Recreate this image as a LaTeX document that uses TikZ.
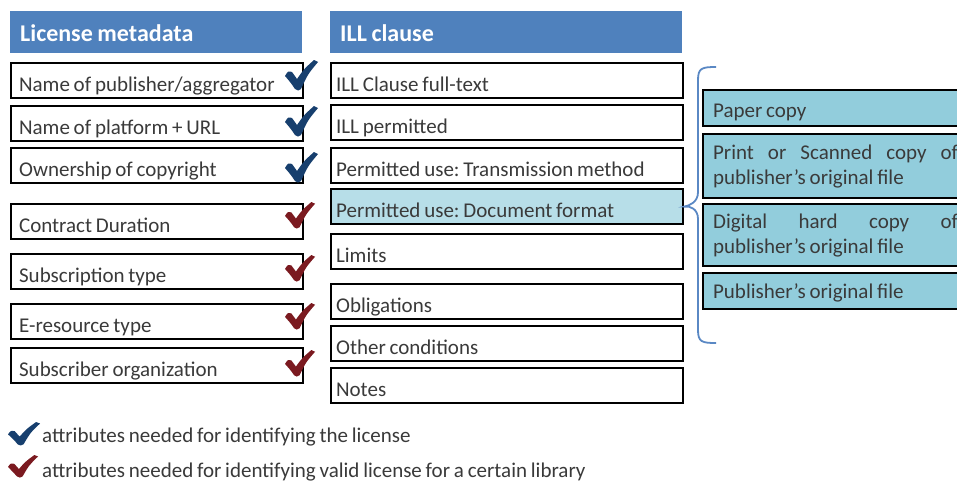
\documentclass[tikz,border=0pt]{standalone}
\usepackage{fontspec}
\setmainfont{Carlito}
\usetikzlibrary{calc}
\definecolor{hdrblue}{HTML}{4F81BD}
\definecolor{lightfill}{HTML}{B7DEE8}
\definecolor{rightfill}{HTML}{92CDDC}
\definecolor{txt}{HTML}{3A3A3A}
\definecolor{chkblue}{HTML}{173F6E}
\definecolor{chkred}{HTML}{7B1A20}
\definecolor{bracecol}{HTML}{5A88C4}
\DeclareRobustCommand{\mybodyfont}{\frenchspacing\fontsize{21}{25}\selectfont\spaceskip=3.8pt\relax}
\DeclareRobustCommand{\myhdrfont}{\frenchspacing\bfseries\fontsize{24}{28}\selectfont\spaceskip=4.6pt\relax}
\tikzset{
  hdr/.style={fill=hdrblue, text=white, anchor=north west, minimum height=42pt,
    inner xsep=10pt, inner ysep=0pt, text height=19.5pt, text depth=0pt,
    font=\myhdrfont, execute at begin node={\spaceskip=4.6pt\relax}},
  fbox/.style={draw=black, line width=2.2pt, anchor=north west, minimum height=35pt,
    inner xsep=8pt, inner ysep=0pt, text height=21pt, text depth=0pt,
    font=\mybodyfont, text=txt, execute at begin node={\spaceskip=3.8pt\relax}},
  lbox/.style={fbox, text width=276pt},
  mbox/.style={fbox, inner xsep=5pt, text width=342pt},
  rbox/.style={draw=black, line width=2.2pt, anchor=north west, fill=rightfill,
    inner xsep=10pt, inner ysep=0pt, text width=268pt,
    font=\mybodyfont, text=txt, execute at begin node={\spaceskip=3.8pt\relax}},
  legtext/.style={anchor=base west, inner sep=0pt, font=\mybodyfont, text=txt},
  chk/.pic={\fill[pic actions] (0,16) .. controls (3,11) .. (7,12) -- (12,19)
     .. controls (19,9) .. (29,0) -- (33,2) .. controls (23,14) .. (16,29)
     .. controls (14,31) and (12,31) .. (10,29) .. controls (6,23) .. (0,16) -- cycle;},
  brace/.style={draw=bracecol, line width=1.8pt}
}
\begin{document}
\begin{tikzpicture}[x=1pt,y=-1pt]
\useasboundingbox (0,0) rectangle (957,482);
\clip (0,0) rectangle (957,482);
\fill[white] (0,0) rectangle (957,482);
% headers
\node[hdr, text width=272pt] (h1) at (10,11) {License metadata};
\node[hdr, text width=332pt] (h2) at (330,11) {ILL clause};
% left column
\node[lbox] (l1) at (10,62) {Name of publisher/aggregator};
\node[lbox] (l2) at (10,105) {Name of platform + URL};
\node[lbox] (l3) at (10,147) {Ownership of copyright};
\node[lbox] (l4) at (10,203) {Contract Duration};
\node[lbox] (l5) at (10,253) {Subscription type};
\node[lbox] (l6) at (10,303) {E-resource type};
\node[lbox] (l7) at (10,347) {Subscriber organization};
% checks
\pic[fill=chkblue] at (285,60) {chk};
\pic[fill=chkblue] at (285,106) {chk};
\pic[fill=chkblue] at (285,152) {chk};
\pic[fill=chkred, xscale=0.91, yscale=0.87] at (285,202) {chk};
\pic[fill=chkred, xscale=0.91, yscale=0.87] at (285,255) {chk};
\pic[fill=chkred, xscale=0.91, yscale=0.87] at (285,303) {chk};
\pic[fill=chkred, xscale=0.91, yscale=0.87] at (285,350) {chk};
% middle column
\node[mbox] (m1) at (330,62) {ILL Clause full-text};
\node[mbox] (m2) at (330,104) {ILL permitted};
\node[mbox] (m3) at (330,147) {Permitted use: Transmission method};
\node[mbox, fill=lightfill] (m4) at (330,188) {Permitted use: Document format};
\node[mbox] (m5) at (330,233) {Limits};
\node[mbox] (m6) at (330,283) {Obligations};
\node[mbox] (m7) at (330,325) {Other conditions};
\node[mbox] (m8) at (330,367) {Notes};
% right column
\node[rbox, minimum height=36pt, text height=18pt, text depth=0pt] (r1) at (702,89) {Paper copy};
\node[rbox, minimum height=64pt] (r2) at (702,133) {\hbox to 245pt{Print\hfill or\hfill Scanned\hfill copy\hfill of}\\publisher’s original file};
\node[rbox, minimum height=62pt] (r3) at (702,203) {\hbox to 245pt{Digital\hfill hard\hfill copy\hfill of}\\publisher’s original file};
\node[rbox, minimum height=36pt, text height=14pt, text depth=0pt] (r4) at (702,272) {Publisher’s original file};
% brace
\coordinate (bt) at (716,67);
\coordinate (bb) at (716,343);
\draw[brace] (bt) .. controls (702,67) and (698,68) .. (698,80) -- (698,192)
  .. controls (698,202) and (690,205.5) .. (m4.east)
  .. controls (690,205.5) and (698,209) .. (698,219) -- (698,330)
  .. controls (698,342) and (702,343) .. (bb);
% legend
\pic[fill=chkblue, xscale=0.97, yscale=0.77] at (8,422) {chk};
\node[legtext] (leg1) at (42,442) {attributes needed for identifying the license};
\pic[fill=chkred, xscale=0.91, yscale=0.74] at (8,455) {chk};
\node[legtext] (leg2) at (42,477) {attributes needed for identifying valid license for a certain library};
\end{tikzpicture}
\end{document}
